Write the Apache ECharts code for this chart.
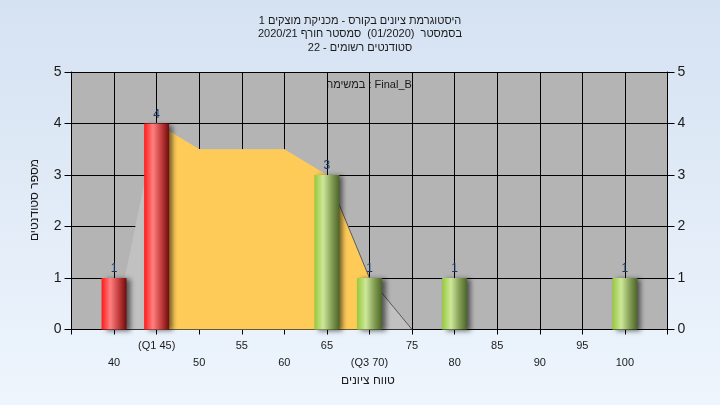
<!DOCTYPE html>
<html><head><meta charset="utf-8">
<script src="https://cdn.jsdelivr.net/npm/echarts@6/dist/echarts.min.js"></script>
<style>html,body{margin:0;padding:0;}#c{width:720px;height:405px;}</style>
</head><body><div id="c"></div>
<script>
// ---- data ----
const gradeBins = [40, 45, 65, 70, 80, 100];
const studentCounts = [1, 4, 3, 1, 1, 1];
const barTone = ['red', 'red', 'green', 'green', 'green', 'green'];
const curveX = [40, 45, 50, 60, 65, 70, 75];
const curveY = [0, 4, 3.5, 3.5, 3, 1, 0];
const q1 = 45, q3 = 70;
const specialTickLabels = { 45: '(Q1 45)', 70: '(Q3 70)' };
const titleLines = [
  'היסטוגרמת ציונים בקורס - מכניקת מוצקים 1',
  'בסמסטר  (01/2020)  סמסטר חורף 2020/21',
  'סטודנטים רשומים - 22'
];
const legendText = 'במשימה : Final_B';
const xName = 'טווח ציונים';
const yName = 'מספר סטודנטים';

const FONT = '"Liberation Sans", "DejaVu Sans", sans-serif';
const chart = echarts.init(document.getElementById('c'));

const gradients = {
  red: new echarts.graphic.LinearGradient(0, 0, 1, 0, [
    { offset: 0, color: '#ff1a1a' }, { offset: 0.35, color: '#ff8080' },
    { offset: 0.7, color: '#c03a3a' }, { offset: 1, color: '#6e0c0c' }]),
  green: new echarts.graphic.LinearGradient(0, 0, 1, 0, [
    { offset: 0, color: '#96c83c' }, { offset: 0.35, color: '#cde89a' },
    { offset: 0.7, color: '#839c55' }, { offset: 1, color: '#4a6527' }])
};

const barData = gradeBins.map((g, i) => ({
  value: [g, studentCounts[i]],
  itemStyle: { color: gradients[barTone[i]], shadowColor: 'rgba(0,0,0,0.55)', shadowBlur: 5, shadowOffsetX: 4, shadowOffsetY: 1 }
}));
const curveData = curveX.map((x, i) => [x, curveY[i]]);
const yellowData = curveData.filter(p => p[0] >= q1 && p[0] <= q3);
const rightEdge = curveData.filter(p => p[0] >= 65);

const yAxisCommon = {
  type: 'value', min: 0, max: 5, interval: 1,
  axisLine: { show: true, lineStyle: { color: '#000', width: 1 } },
  axisTick: { show: true, length: 7, lineStyle: { color: '#000' } },
  axisLabel: { fontSize: 14, color: '#1a1a1a', fontFamily: FONT, margin: 10 },
  splitLine: { show: true, lineStyle: { color: '#000', width: 1 } }
};

chart.setOption({
  backgroundColor: new echarts.graphic.LinearGradient(0, 0, 0, 1, [
    { offset: 0, color: '#d5e2f2' }, { offset: 1, color: '#eef5fd' }]),
  animation: false,
  title: {
    text: titleLines.join('\n'),
    left: 'center', top: 9,
    textStyle: { fontSize: 11, fontWeight: 'normal', color: '#1a1a1a', fontFamily: FONT, lineHeight: 13.5 }
  },
  grid: { left: 71.5, right: 52.5, top: 72, bottom: 75.5, show: true, backgroundColor: '#b4b4b4', borderWidth: 0 },
  xAxis: {
    type: 'value', min: 35, max: 105, interval: 5,
    axisLine: { show: true, onZero: false, lineStyle: { color: '#000', width: 1 } },
    axisTick: { show: true, length: 5, lineStyle: { color: '#000' } },
    axisLabel: {
      fontSize: 11, color: '#1a1a1a', fontFamily: FONT, margin: 8, lineHeight: 17,
      showMinLabel: true, showMaxLabel: true,
      formatter: function (v) {
        if (v === 35 || v === 105) return '';
        const t = specialTickLabels[v] || String(v);
        return (v % 10 === 0) ? '\n' + t : t;
      }
    },
    splitLine: { show: true, lineStyle: { color: '#000', width: 1 } }
  },
  yAxis: [
    Object.assign({}, yAxisCommon, { position: 'left' }),
    Object.assign({}, yAxisCommon, { position: 'right' })
  ],
  graphic: [
    { type: 'text', x: 369, y: 85, style: { text: legendText, font: '11px ' + FONT, fill: '#1a1a1a', align: 'center', verticalAlign: 'middle' } },
    { type: 'text', x: 368, y: 381, style: { text: xName, font: '12px ' + FONT, fill: '#1a1a1a', align: 'center', verticalAlign: 'middle' } },
    { type: 'text', x: 35, y: 200, rotation: Math.PI / 2, style: { text: yName, font: '12px ' + FONT, fill: '#1a1a1a', align: 'center', verticalAlign: 'middle' } }
  ],
  series: [
    { type: 'line', data: curveData, symbol: 'none', lineStyle: { width: 0 }, areaStyle: { color: '#c1c1c1', opacity: 1 }, z: 2, silent: true },
    { type: 'line', data: yellowData, symbol: 'none', lineStyle: { width: 0 }, areaStyle: { color: '#fecb58', opacity: 1 }, z: 3, silent: true },
    { type: 'line', data: rightEdge, symbol: 'none', lineStyle: { width: 1, color: '#5a5a5a' }, z: 4, silent: true },
    { type: 'bar', data: barData, barWidth: 25, z: 5,
      label: { show: true, position: 'top', distance: 3, fontSize: 12, color: '#1c3a5e', fontFamily: FONT } }
  ]
});
</script>
</body></html>
